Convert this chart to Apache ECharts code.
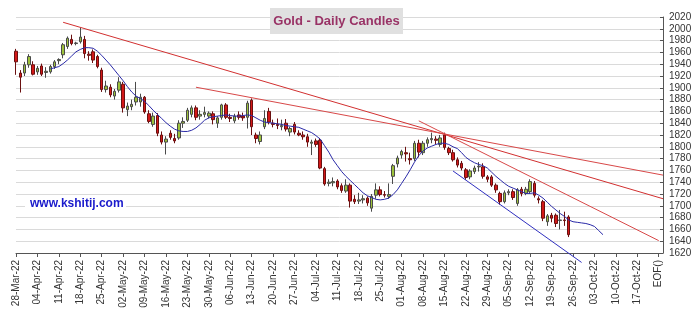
<!DOCTYPE html>
<html>
<head>
<meta charset="utf-8">
<script src="https://cdn.jsdelivr.net/npm/echarts@6/dist/echarts.min.js"></script>
<style>
html,body{margin:0;padding:0;background:#fff;}
#chart{width:696px;height:326px;}
</style>
</head>
<body>
<div id="chart"></div>
<script>
// Weekly tick labels (one every 5 trading days)
const weekLabels = ['28-Mar-22','04-Apr-22','11-Apr-22','18-Apr-22','25-Apr-22','02-May-22','09-May-22','16-May-22','23-May-22','30-May-22','06-Jun-22','13-Jun-22','20-Jun-22','27-Jun-22','04-Jul-22','11-Jul-22','18-Jul-22','25-Jul-22','01-Aug-22','08-Aug-22','15-Aug-22','22-Aug-22','29-Aug-22','05-Sep-22','12-Sep-22','19-Sep-22','26-Sep-22','03-Oct-22','10-Oct-22','17-Oct-22','EOF()'];

// Daily candles: [open, close, low, high], starting 28-Mar-22
const candles = [
[1962,1944,1922,1966],[1925,1918,1892,1930],[1925,1939,1920,1944],[1939,1953,1934,1957],[1939,1923,1921,1945],
[1927,1933,1922,1937],[1937,1923,1920,1941],[1926,1928,1917,1935],[1927,1936,1924,1939],[1936,1944,1932,1947],
[1946,1948,1940,1950],[1956,1973,1950,1976],[1970,1984,1966,1987],[1982,1975,1972,1990],[1975,1976,1972,1978],
[1978,1986,1975,2002],[1982,1958,1950,1988],[1957,1955,1946,1962],[1961,1947,1942,1965],[1953,1936,1933,1956],
[1930,1897,1893,1934],[1897,1903,1892,1912],[1901,1888,1884,1906],[1886,1894,1880,1898],[1896,1910,1892,1918],
[1906,1866,1858,1910],[1863,1869,1852,1875],[1868,1872,1862,1880],[1876,1884,1870,1910],[1876,1884,1868,1890],
[1884,1859,1856,1886],[1856,1843,1840,1862],[1838,1852,1834,1858],[1853,1823,1818,1857],[1820,1808,1804,1826],
[1808,1813,1787,1818],[1823,1816,1812,1828],[1814,1810,1806,1822],[1815,1840,1812,1845],[1840,1843,1832,1850],
[1845,1862,1842,1866],[1855,1866,1850,1870],[1866,1850,1845,1870],[1852,1855,1846,1862],[1855,1858,1850,1868],
[1852,1857,1848,1860],[1856,1846,1838,1860],[1840,1849,1832,1852],[1850,1871,1846,1873],[1871,1850,1847,1874],
[1850,1848,1842,1856],[1844,1852,1840,1856],[1854,1850,1846,1860],[1852,1849,1844,1858],[1850,1874,1831,1878],
[1879,1834,1820,1882],[1820,1814,1806,1824],[1809,1820,1804,1826],[1834,1848,1830,1862],[1860,1842,1838,1866],
[1840,1838,1833,1846],[1838,1836,1830,1848],[1834,1836,1828,1846],[1840,1830,1826,1847],[1825,1831,1818,1834],
[1838,1825,1821,1842],[1823,1820,1818,1828],[1820,1817,1812,1826],[1817,1808,1800,1822],[1806,1808,1786,1812],
[1810,1804,1800,1814],[1811,1764,1762,1815],[1763,1737,1734,1766],[1738,1740,1733,1745],[1739,1741,1733,1748],
[1742,1732,1728,1745],[1734,1726,1722,1738],[1725,1735,1722,1745],[1735,1708,1697,1738],[1711,1707,1703,1718],
[1708,1710,1703,1722],[1710,1712,1704,1718],[1713,1705,1700,1716],[1696,1716,1690,1720],[1718,1727,1712,1738],
[1727,1719,1716,1733],[1719,1718,1714,1725],[1716,1719,1712,1738],[1750,1768,1737,1771],[1771,1781,1765,1785],
[1786,1792,1780,1795],[1790,1788,1775,1800],[1780,1778,1770,1790],[1780,1806,1776,1810],[1806,1791,1782,1812],
[1790,1806,1786,1810],[1806,1812,1800,1816],[1812,1814,1806,1824],[1813,1811,1804,1818],[1804,1815,1800,1820],
[1820,1799,1795,1824],[1797,1790,1786,1800],[1790,1778,1775,1795],[1778,1769,1765,1782],[1772,1764,1760,1776],
[1761,1748,1744,1764],[1749,1759,1745,1762],[1758,1764,1754,1768],[1766,1767,1758,1774],[1766,1750,1746,1772],
[1749,1745,1740,1752],[1749,1735,1732,1752],[1735,1727,1722,1738],[1721,1707,1702,1724],[1707,1722,1704,1726],
[1722,1724,1718,1728],[1724,1714,1710,1728],[1704,1727,1700,1730],[1728,1721,1716,1732],[1721,1728,1718,1732],
[1724,1741,1720,1745],[1738,1718,1714,1742],[1712,1710,1704,1716],[1707,1679,1674,1710],[1673,1683,1666,1686],
[1684,1679,1672,1688],[1684,1670,1664,1687],[1675,1676,1660,1693],[1676,1675,1666,1690],[1681,1651,1647,1684]
];

// Moving-average line, first value at trading day index 8
const maStart = 8;
const maValues = [1932,1934,1936,1941,1947,1954,1961,1965,1968,1968,1967,1962,1955,1947,1939,1930,1921,1912,1902,1893,
1886,1882,1877,1870,1862,1855,1848,1841,1835,1830,1827,1826,1826,1828,1832,1838,1845,1849,1851,1852,
1853,1854,1853,1852,1852,1853,1854,1853,1849,1845,1842,1841,1840,1839,1838,1836,1835,1834,1833,1830,
1827,1824,1819,1813,1802,1791,1778,1768,1758,1750,1743,1736,1729,1722,1717,1714,1711,1710,1711,1713,
1719,1727,1738,1749,1761,1774,1785,1793,1798,1801,1804,1806,1806,1804,1800,1797,1790,1782,1777,1773,
1770,1768,1764,1757,1750,1744,1738,1733,1730,1727,1724,1721,1721,1722,1718,1713,1706,1699,1693,1687,
1682,1676,1673,1672,1671,1670,1668,1665,1658,1651];

// Trend lines: [dayIndex, price] end points
const redLine1 = [[11, 2011], [151, 1712]];
const redLine2 = [[42, 1901], [151, 1752]];
const redLine3 = [[94, 1844], [150, 1641]];
const blueChannel = [[102, 1759], [132, 1604]];

const yMin = 1620, yMax = 2020, yStep = 20;
const totalDays = 152;

const categories = [];
for (let i = 0; i < totalDays; i++) categories.push('d' + i);
const maData = [];
for (let i = 0; i < maStart; i++) maData.push(null);
maValues.forEach(v => maData.push(v));

const chart = echarts.init(document.getElementById('chart'), null, {renderer: 'canvas'});
const font = 'Arial, "Liberation Sans", sans-serif';
chart.setOption({
  animation: false,
  backgroundColor: '#ffffff',
  grid: {left: 16, right: 33, top: 17, bottom: 73, containLabel: false},
  xAxis: {
    type: 'category',
    data: categories,
    boundaryGap: false,
    axisLine: {show: true, lineStyle: {color: '#555', width: 1}},
    axisTick: {show: true, interval: 4, length: 4, lineStyle: {color: '#555'}},
    axisLabel: {
      interval: 4, rotate: 90, margin: 7, fontSize: 10, color: '#333', fontFamily: font,
      formatter: (v, idx) => weekLabels[Math.round(idx / 5)] || ''
    },
    splitLine: {show: false}
  },
  yAxis: {
    type: 'value',
    position: 'right',
    min: yMin, max: yMax, interval: yStep,
    axisLine: {show: true, lineStyle: {color: '#555', width: 1}},
    axisTick: {show: true, inside: true, length: 3, lineStyle: {color: '#555'}},
    axisLabel: {fontSize: 10, color: '#333', margin: 6, fontFamily: font, formatter: v => String(v)},
    splitLine: {show: true, lineStyle: {color: '#dadada', width: 1}}
  },
  graphic: [
    {type: 'rect', z: 5, shape: {x: 270, y: 8, width: 133, height: 26}, style: {fill: '#e0e0e0'}},
    {type: 'text', z: 6, x: 336.5, y: 21, style: {text: 'Gold - Daily Candles', fill: '#993366',
      font: 'bold 13px Arial, "Liberation Sans", sans-serif', textAlign: 'center', textVerticalAlign: 'middle'}},
    {type: 'rect', z: 5, shape: {x: 25, y: 195, width: 101, height: 17}, style: {fill: '#ffffff'}},
    {type: 'text', z: 6, x: 30, y: 203.5, style: {text: 'www.kshitij.com', fill: '#1a1acc',
      font: 'bold 12px Arial, "Liberation Sans", sans-serif', textAlign: 'left', textVerticalAlign: 'middle'}}
  ],
  series: [
    {
      type: 'candlestick',
      data: candles,
      barWidth: 3,
      z: 3,
      itemStyle: {color: '#9dc23a', color0: '#d41818', borderColor: '#4a4a4a', borderColor0: '#6a1010', borderWidth: 1}
    },
    {type: 'line', data: maData, symbol: 'none', smooth: false, z: 4,
      lineStyle: {color: '#2a2aa8', width: 1}},
    {type: 'line', data: redLine1, symbol: 'none', z: 4, lineStyle: {color: '#d23030', width: 1}},
    {type: 'line', data: redLine2, symbol: 'none', z: 4, lineStyle: {color: '#d84848', width: 1}},
    {type: 'line', data: redLine3, symbol: 'none', z: 4, lineStyle: {color: '#d84848', width: 1}},
    {type: 'line', data: blueChannel, symbol: 'none', z: 4, clip: false, lineStyle: {color: '#3030c0', width: 1}}
  ]
});
</script>
</body>
</html>
